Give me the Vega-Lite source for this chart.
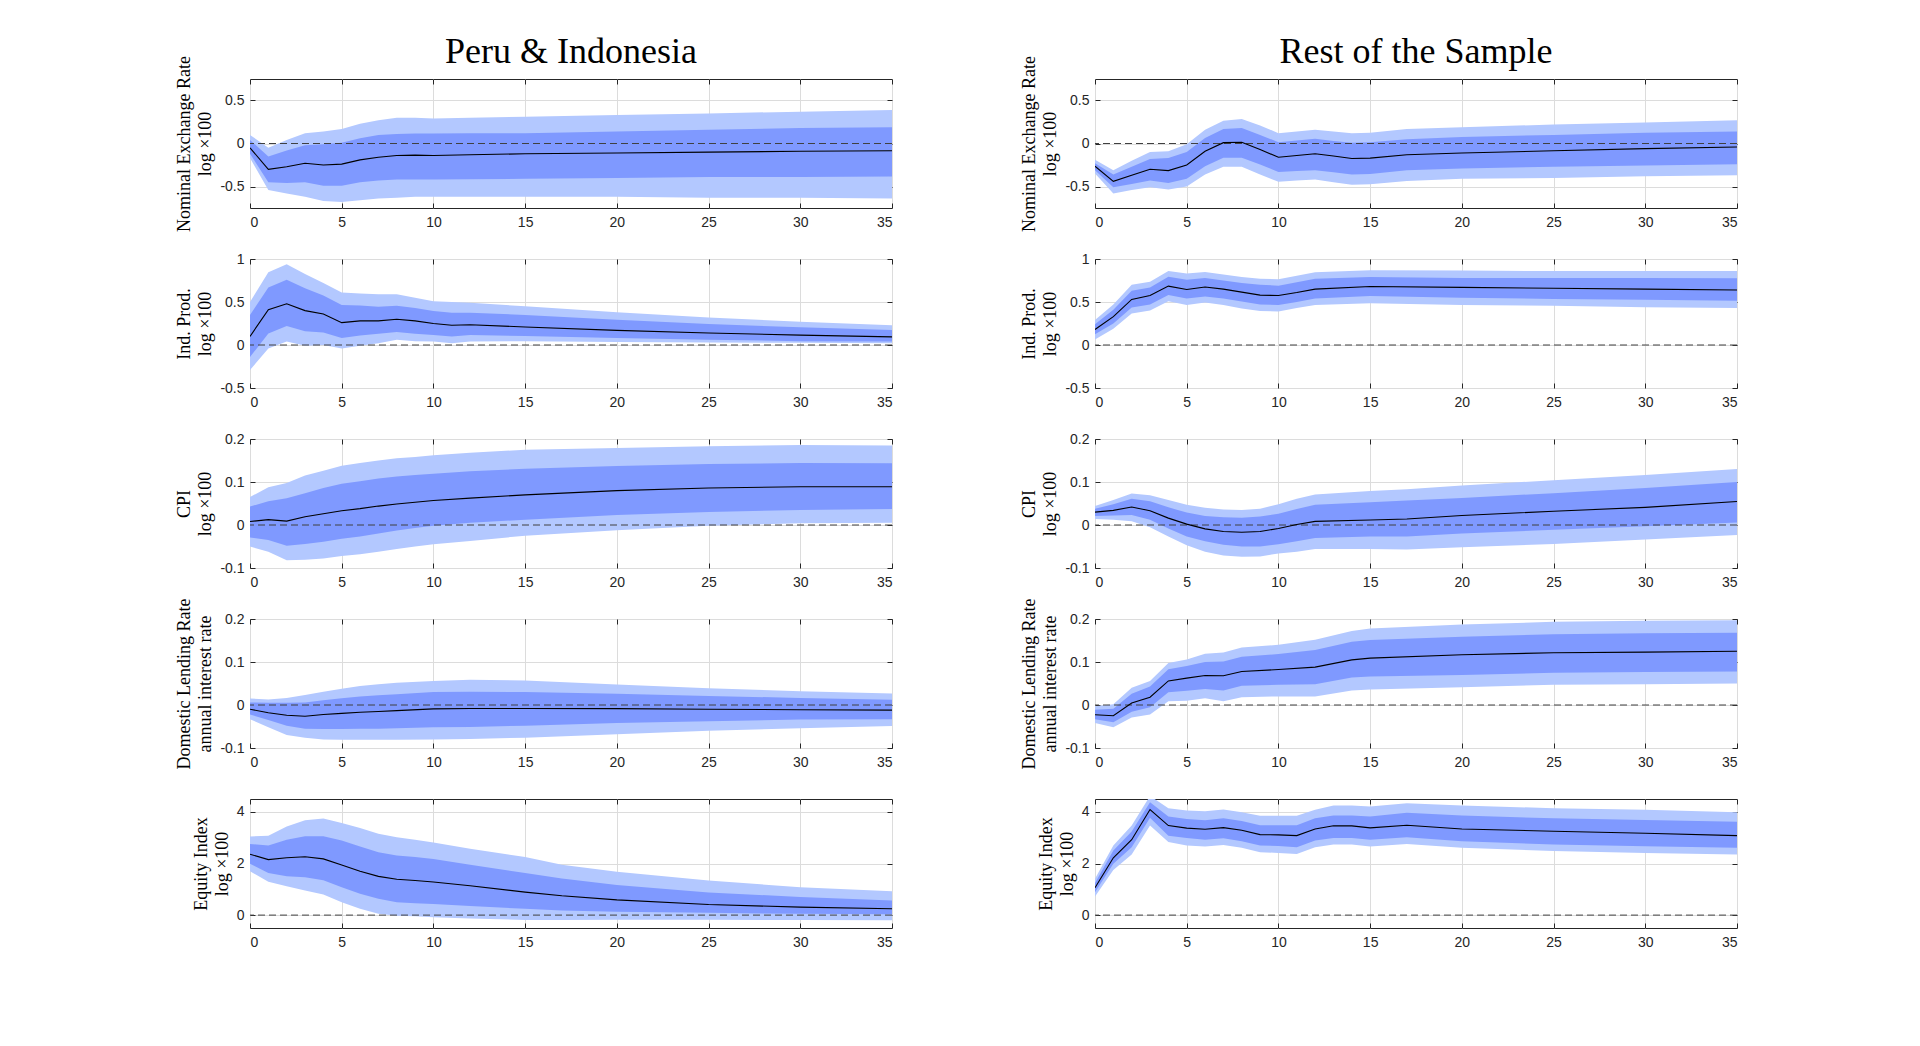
{
  "$schema": "https://vega.github.io/schema/vega-lite/v6.json",
  "background": "white",
  "padding": {"left": 175, "top": 33, "right": 10, "bottom": 10},
  "data": {
    "values": [
      {"panel": "pi_ner", "h": 0, "med": -0.05, "lo90": -0.17, "lo68": -0.12, "hi68": 0.04, "hi90": 0.1},
      {"panel": "pi_ner", "h": 1, "med": -0.3, "lo90": -0.54, "lo68": -0.45, "hi68": -0.15, "hi90": -0.05},
      {"panel": "pi_ner", "h": 2, "med": -0.27, "lo90": -0.58, "lo68": -0.46, "hi68": -0.08, "hi90": 0.04},
      {"panel": "pi_ner", "h": 3, "med": -0.23, "lo90": -0.62, "lo68": -0.45, "hi68": -0.02, "hi90": 0.12},
      {"panel": "pi_ner", "h": 4, "med": -0.25, "lo90": -0.67, "lo68": -0.49, "hi68": -0.01, "hi90": 0.14},
      {"panel": "pi_ner", "h": 5, "med": -0.24, "lo90": -0.68, "lo68": -0.49, "hi68": 0.01, "hi90": 0.17},
      {"panel": "pi_ner", "h": 6, "med": -0.19, "lo90": -0.66, "lo68": -0.45, "hi68": 0.06, "hi90": 0.23},
      {"panel": "pi_ner", "h": 7, "med": -0.16, "lo90": -0.64, "lo68": -0.43, "hi68": 0.1, "hi90": 0.27},
      {"panel": "pi_ner", "h": 8, "med": -0.14, "lo90": -0.63, "lo68": -0.42, "hi68": 0.11, "hi90": 0.3},
      {"panel": "pi_ner", "h": 9, "med": -0.135, "lo90": -0.62, "lo68": -0.42, "hi68": 0.115, "hi90": 0.3},
      {"panel": "pi_ner", "h": 10, "med": -0.14, "lo90": -0.62, "lo68": -0.42, "hi68": 0.115, "hi90": 0.29},
      {"panel": "pi_ner", "h": 12, "med": -0.13, "lo90": -0.62, "lo68": -0.415, "hi68": 0.12, "hi90": 0.3},
      {"panel": "pi_ner", "h": 15, "med": -0.12, "lo90": -0.62, "lo68": -0.41, "hi68": 0.12, "hi90": 0.31},
      {"panel": "pi_ner", "h": 20, "med": -0.11, "lo90": -0.62, "lo68": -0.4, "hi68": 0.14, "hi90": 0.33},
      {"panel": "pi_ner", "h": 25, "med": -0.1, "lo90": -0.63, "lo68": -0.39, "hi68": 0.16, "hi90": 0.35},
      {"panel": "pi_ner", "h": 30, "med": -0.09, "lo90": -0.63, "lo68": -0.39, "hi68": 0.18, "hi90": 0.37},
      {"panel": "pi_ner", "h": 35, "med": -0.085, "lo90": -0.64, "lo68": -0.385, "hi68": 0.19, "hi90": 0.39},

      {"panel": "rs_ner", "h": 0, "med": -0.265, "lo90": -0.35, "lo68": -0.31, "hi68": -0.23, "hi90": -0.19},
      {"panel": "rs_ner", "h": 1, "med": -0.44, "lo90": -0.58, "lo68": -0.51, "hi68": -0.36, "hi90": -0.31},
      {"panel": "rs_ner", "h": 2, "med": -0.37, "lo90": -0.54, "lo68": -0.47, "hi68": -0.27, "hi90": -0.2},
      {"panel": "rs_ner", "h": 3, "med": -0.3, "lo90": -0.51, "lo68": -0.43, "hi68": -0.18, "hi90": -0.1},
      {"panel": "rs_ner", "h": 4, "med": -0.315, "lo90": -0.535, "lo68": -0.46, "hi68": -0.17, "hi90": -0.09},
      {"panel": "rs_ner", "h": 5, "med": -0.25, "lo90": -0.5, "lo68": -0.41, "hi68": -0.1, "hi90": -0.01},
      {"panel": "rs_ner", "h": 6, "med": -0.09, "lo90": -0.36, "lo68": -0.265, "hi68": 0.065, "hi90": 0.16},
      {"panel": "rs_ner", "h": 7, "med": 0.01, "lo90": -0.27, "lo68": -0.165, "hi68": 0.17, "hi90": 0.265},
      {"panel": "rs_ner", "h": 8, "med": 0.015, "lo90": -0.27, "lo68": -0.165, "hi68": 0.18, "hi90": 0.285},
      {"panel": "rs_ner", "h": 9, "med": -0.07, "lo90": -0.36, "lo68": -0.245, "hi68": 0.1, "hi90": 0.21},
      {"panel": "rs_ner", "h": 10, "med": -0.16, "lo90": -0.445, "lo68": -0.33, "hi68": 0.015, "hi90": 0.12},
      {"panel": "rs_ner", "h": 11, "med": -0.14, "lo90": -0.43, "lo68": -0.32, "hi68": 0.035, "hi90": 0.14},
      {"panel": "rs_ner", "h": 12, "med": -0.12, "lo90": -0.42, "lo68": -0.31, "hi68": 0.055, "hi90": 0.16},
      {"panel": "rs_ner", "h": 13, "med": -0.145, "lo90": -0.45, "lo68": -0.335, "hi68": 0.03, "hi90": 0.14},
      {"panel": "rs_ner", "h": 14, "med": -0.175, "lo90": -0.48, "lo68": -0.36, "hi68": 0.01, "hi90": 0.12},
      {"panel": "rs_ner", "h": 15, "med": -0.17, "lo90": -0.475, "lo68": -0.355, "hi68": 0.015, "hi90": 0.125},
      {"panel": "rs_ner", "h": 17, "med": -0.13, "lo90": -0.435, "lo68": -0.31, "hi68": 0.05, "hi90": 0.17},
      {"panel": "rs_ner", "h": 20, "med": -0.11, "lo90": -0.41, "lo68": -0.29, "hi68": 0.075, "hi90": 0.19},
      {"panel": "rs_ner", "h": 25, "med": -0.085, "lo90": -0.4, "lo68": -0.27, "hi68": 0.1, "hi90": 0.22},
      {"panel": "rs_ner", "h": 30, "med": -0.06, "lo90": -0.38, "lo68": -0.255, "hi68": 0.125, "hi90": 0.245},
      {"panel": "rs_ner", "h": 35, "med": -0.04, "lo90": -0.37, "lo68": -0.24, "hi68": 0.14, "hi90": 0.27},

      {"panel": "pi_ip", "h": 0, "med": 0.1, "lo90": -0.29, "lo68": -0.14, "hi68": 0.35, "hi90": 0.5},
      {"panel": "pi_ip", "h": 1, "med": 0.41, "lo90": -0.04, "lo68": 0.135, "hi68": 0.67, "hi90": 0.845},
      {"panel": "pi_ip", "h": 2, "med": 0.48, "lo90": 0.04, "lo68": 0.22, "hi68": 0.76, "hi90": 0.94},
      {"panel": "pi_ip", "h": 3, "med": 0.4, "lo90": -0.01, "lo68": 0.16, "hi68": 0.66, "hi90": 0.825},
      {"panel": "pi_ip", "h": 4, "med": 0.36, "lo90": 0.0, "lo68": 0.145, "hi68": 0.575, "hi90": 0.72},
      {"panel": "pi_ip", "h": 5, "med": 0.26, "lo90": -0.04, "lo68": 0.08, "hi68": 0.465, "hi90": 0.61},
      {"panel": "pi_ip", "h": 6, "med": 0.28, "lo90": -0.01, "lo68": 0.11, "hi68": 0.46, "hi90": 0.6},
      {"panel": "pi_ip", "h": 7, "med": 0.28, "lo90": 0.02, "lo68": 0.13, "hi68": 0.445, "hi90": 0.59},
      {"panel": "pi_ip", "h": 8, "med": 0.3, "lo90": 0.06, "lo68": 0.15, "hi68": 0.455, "hi90": 0.59},
      {"panel": "pi_ip", "h": 9, "med": 0.28, "lo90": 0.045, "lo68": 0.13, "hi68": 0.43, "hi90": 0.55},
      {"panel": "pi_ip", "h": 10, "med": 0.25, "lo90": 0.04, "lo68": 0.115, "hi68": 0.395, "hi90": 0.51},
      {"panel": "pi_ip", "h": 11, "med": 0.23, "lo90": 0.02, "lo68": 0.1, "hi68": 0.375, "hi90": 0.5},
      {"panel": "pi_ip", "h": 12, "med": 0.235, "lo90": 0.04, "lo68": 0.115, "hi68": 0.375, "hi90": 0.49},
      {"panel": "pi_ip", "h": 15, "med": 0.21, "lo90": 0.045, "lo68": 0.105, "hi68": 0.35, "hi90": 0.45},
      {"panel": "pi_ip", "h": 20, "med": 0.17, "lo90": 0.035, "lo68": 0.08, "hi68": 0.295, "hi90": 0.38},
      {"panel": "pi_ip", "h": 25, "med": 0.14, "lo90": 0.03, "lo68": 0.06, "hi68": 0.245, "hi90": 0.32},
      {"panel": "pi_ip", "h": 30, "med": 0.115, "lo90": 0.025, "lo68": 0.045, "hi68": 0.205, "hi90": 0.27},
      {"panel": "pi_ip", "h": 35, "med": 0.095, "lo90": 0.02, "lo68": 0.04, "hi68": 0.175, "hi90": 0.23},

      {"panel": "rs_ip", "h": 0, "med": 0.18, "lo90": 0.065, "lo68": 0.125, "hi68": 0.24, "hi90": 0.29},
      {"panel": "rs_ip", "h": 1, "med": 0.33, "lo90": 0.19, "lo68": 0.25, "hi68": 0.41, "hi90": 0.47},
      {"panel": "rs_ip", "h": 2, "med": 0.53, "lo90": 0.365, "lo68": 0.435, "hi68": 0.63, "hi90": 0.7},
      {"panel": "rs_ip", "h": 3, "med": 0.575, "lo90": 0.4, "lo68": 0.47, "hi68": 0.67, "hi90": 0.735},
      {"panel": "rs_ip", "h": 4, "med": 0.685, "lo90": 0.51, "lo68": 0.58, "hi68": 0.795, "hi90": 0.86},
      {"panel": "rs_ip", "h": 5, "med": 0.645, "lo90": 0.465, "lo68": 0.54, "hi68": 0.76, "hi90": 0.83},
      {"panel": "rs_ip", "h": 6, "med": 0.675, "lo90": 0.495, "lo68": 0.565, "hi68": 0.78, "hi90": 0.85},
      {"panel": "rs_ip", "h": 7, "med": 0.65, "lo90": 0.465, "lo68": 0.54, "hi68": 0.75, "hi90": 0.82},
      {"panel": "rs_ip", "h": 8, "med": 0.615, "lo90": 0.425, "lo68": 0.505, "hi68": 0.72, "hi90": 0.79},
      {"panel": "rs_ip", "h": 9, "med": 0.58, "lo90": 0.395, "lo68": 0.47, "hi68": 0.7, "hi90": 0.77},
      {"panel": "rs_ip", "h": 10, "med": 0.575, "lo90": 0.39, "lo68": 0.465, "hi68": 0.69, "hi90": 0.765},
      {"panel": "rs_ip", "h": 11, "med": 0.61, "lo90": 0.43, "lo68": 0.5, "hi68": 0.73, "hi90": 0.805},
      {"panel": "rs_ip", "h": 12, "med": 0.65, "lo90": 0.465, "lo68": 0.54, "hi68": 0.77, "hi90": 0.845},
      {"panel": "rs_ip", "h": 15, "med": 0.68, "lo90": 0.485, "lo68": 0.57, "hi68": 0.79, "hi90": 0.87},
      {"panel": "rs_ip", "h": 20, "med": 0.67, "lo90": 0.465, "lo68": 0.55, "hi68": 0.78, "hi90": 0.865},
      {"panel": "rs_ip", "h": 25, "med": 0.66, "lo90": 0.455, "lo68": 0.535, "hi68": 0.78, "hi90": 0.86},
      {"panel": "rs_ip", "h": 30, "med": 0.65, "lo90": 0.44, "lo68": 0.525, "hi68": 0.78, "hi90": 0.86},
      {"panel": "rs_ip", "h": 35, "med": 0.64, "lo90": 0.43, "lo68": 0.515, "hi68": 0.775, "hi90": 0.86},

      {"panel": "pi_cpi", "h": 0, "med": 0.008, "lo90": -0.05, "lo68": -0.029, "hi68": 0.043, "hi90": 0.065},
      {"panel": "pi_cpi", "h": 1, "med": 0.0125, "lo90": -0.062, "lo68": -0.035, "hi68": 0.055, "hi90": 0.088},
      {"panel": "pi_cpi", "h": 2, "med": 0.009, "lo90": -0.082, "lo68": -0.048, "hi68": 0.062, "hi90": 0.0975},
      {"panel": "pi_cpi", "h": 3, "med": 0.019, "lo90": -0.081, "lo68": -0.044, "hi68": 0.074, "hi90": 0.115},
      {"panel": "pi_cpi", "h": 4, "med": 0.026, "lo90": -0.078, "lo68": -0.039, "hi68": 0.086, "hi90": 0.126},
      {"panel": "pi_cpi", "h": 5, "med": 0.033, "lo90": -0.072, "lo68": -0.032, "hi68": 0.096, "hi90": 0.138},
      {"panel": "pi_cpi", "h": 6, "med": 0.038, "lo90": -0.068, "lo68": -0.027, "hi68": 0.102, "hi90": 0.144},
      {"panel": "pi_cpi", "h": 7, "med": 0.044, "lo90": -0.062, "lo68": -0.02, "hi68": 0.108, "hi90": 0.15},
      {"panel": "pi_cpi", "h": 8, "med": 0.049, "lo90": -0.056, "lo68": -0.013, "hi68": 0.113, "hi90": 0.155},
      {"panel": "pi_cpi", "h": 9, "med": 0.053, "lo90": -0.05, "lo68": -0.007, "hi68": 0.116, "hi90": 0.158},
      {"panel": "pi_cpi", "h": 10, "med": 0.057, "lo90": -0.045, "lo68": -0.002, "hi68": 0.119, "hi90": 0.162},
      {"panel": "pi_cpi", "h": 12, "med": 0.0625, "lo90": -0.037, "lo68": 0.005, "hi68": 0.125, "hi90": 0.168},
      {"panel": "pi_cpi", "h": 15, "med": 0.07, "lo90": -0.025, "lo68": 0.0125, "hi68": 0.131, "hi90": 0.175},
      {"panel": "pi_cpi", "h": 20, "med": 0.08, "lo90": -0.012, "lo68": 0.023, "hi68": 0.137, "hi90": 0.179},
      {"panel": "pi_cpi", "h": 25, "med": 0.086, "lo90": -0.002, "lo68": 0.03, "hi68": 0.142, "hi90": 0.183},
      {"panel": "pi_cpi", "h": 30, "med": 0.089, "lo90": 0.004, "lo68": 0.035, "hi68": 0.144, "hi90": 0.186},
      {"panel": "pi_cpi", "h": 35, "med": 0.089, "lo90": 0.005, "lo68": 0.0375, "hi68": 0.1435, "hi90": 0.185},

      {"panel": "rs_cpi", "h": 0, "med": 0.03, "lo90": 0.014, "lo68": 0.021, "hi68": 0.038, "hi90": 0.044},
      {"panel": "rs_cpi", "h": 1, "med": 0.034, "lo90": 0.012, "lo68": 0.022, "hi68": 0.048, "hi90": 0.058},
      {"panel": "rs_cpi", "h": 2, "med": 0.042, "lo90": 0.009, "lo68": 0.023, "hi68": 0.061, "hi90": 0.073},
      {"panel": "rs_cpi", "h": 3, "med": 0.033, "lo90": -0.005, "lo68": 0.012, "hi68": 0.055, "hi90": 0.069},
      {"panel": "rs_cpi", "h": 4, "med": 0.016, "lo90": -0.027, "lo68": -0.008, "hi68": 0.041, "hi90": 0.058},
      {"panel": "rs_cpi", "h": 5, "med": 0.002, "lo90": -0.047, "lo68": -0.027, "hi68": 0.029, "hi90": 0.047},
      {"panel": "rs_cpi", "h": 6, "med": -0.009, "lo90": -0.062, "lo68": -0.038, "hi68": 0.021, "hi90": 0.04},
      {"panel": "rs_cpi", "h": 7, "med": -0.015, "lo90": -0.071, "lo68": -0.046, "hi68": 0.018, "hi90": 0.036},
      {"panel": "rs_cpi", "h": 8, "med": -0.017, "lo90": -0.074, "lo68": -0.05, "hi68": 0.017, "hi90": 0.035},
      {"panel": "rs_cpi", "h": 9, "med": -0.015, "lo90": -0.073, "lo68": -0.05, "hi68": 0.02, "hi90": 0.038},
      {"panel": "rs_cpi", "h": 10, "med": -0.008, "lo90": -0.066, "lo68": -0.045, "hi68": 0.026, "hi90": 0.048},
      {"panel": "rs_cpi", "h": 11, "med": 0.001, "lo90": -0.062, "lo68": -0.038, "hi68": 0.037, "hi90": 0.061},
      {"panel": "rs_cpi", "h": 12, "med": 0.0085, "lo90": -0.056, "lo68": -0.03, "hi68": 0.047, "hi90": 0.071},
      {"panel": "rs_cpi", "h": 15, "med": 0.0115, "lo90": -0.056, "lo68": -0.027, "hi68": 0.053, "hi90": 0.079},
      {"panel": "rs_cpi", "h": 17, "med": 0.014, "lo90": -0.057, "lo68": -0.027, "hi68": 0.057, "hi90": 0.083},
      {"panel": "rs_cpi", "h": 20, "med": 0.022, "lo90": -0.052, "lo68": -0.02, "hi68": 0.063, "hi90": 0.092},
      {"panel": "rs_cpi", "h": 25, "med": 0.032, "lo90": -0.044, "lo68": -0.011, "hi68": 0.074, "hi90": 0.104},
      {"panel": "rs_cpi", "h": 30, "med": 0.041, "lo90": -0.034, "lo68": -0.003, "hi68": 0.086, "hi90": 0.116},
      {"panel": "rs_cpi", "h": 35, "med": 0.0545, "lo90": -0.023, "lo68": 0.006, "hi68": 0.1, "hi90": 0.13},

      {"panel": "pi_lr", "h": 0, "med": -0.01, "lo90": -0.033, "lo68": -0.022, "hi68": 0.006, "hi90": 0.015},
      {"panel": "pi_lr", "h": 1, "med": -0.018, "lo90": -0.052, "lo68": -0.035, "hi68": 0.005, "hi90": 0.013},
      {"panel": "pi_lr", "h": 2, "med": -0.024, "lo90": -0.07, "lo68": -0.048, "hi68": 0.005, "hi90": 0.016},
      {"panel": "pi_lr", "h": 3, "med": -0.026, "lo90": -0.076, "lo68": -0.055, "hi68": 0.006, "hi90": 0.023},
      {"panel": "pi_lr", "h": 4, "med": -0.022, "lo90": -0.08, "lo68": -0.056, "hi68": 0.011, "hi90": 0.031},
      {"panel": "pi_lr", "h": 5, "med": -0.0195, "lo90": -0.081, "lo68": -0.056, "hi68": 0.0155, "hi90": 0.038},
      {"panel": "pi_lr", "h": 6, "med": -0.017, "lo90": -0.081, "lo68": -0.055, "hi68": 0.0195, "hi90": 0.044},
      {"panel": "pi_lr", "h": 7, "med": -0.015, "lo90": -0.081, "lo68": -0.055, "hi68": 0.0225, "hi90": 0.048},
      {"panel": "pi_lr", "h": 8, "med": -0.013, "lo90": -0.081, "lo68": -0.054, "hi68": 0.025, "hi90": 0.052},
      {"panel": "pi_lr", "h": 10, "med": -0.009, "lo90": -0.08, "lo68": -0.052, "hi68": 0.03, "hi90": 0.056},
      {"panel": "pi_lr", "h": 12, "med": -0.008, "lo90": -0.079, "lo68": -0.051, "hi68": 0.031, "hi90": 0.0585},
      {"panel": "pi_lr", "h": 15, "med": -0.008, "lo90": -0.076, "lo68": -0.048, "hi68": 0.03, "hi90": 0.057},
      {"panel": "pi_lr", "h": 20, "med": -0.0085, "lo90": -0.068, "lo68": -0.042, "hi68": 0.026, "hi90": 0.0475},
      {"panel": "pi_lr", "h": 25, "med": -0.01, "lo90": -0.06, "lo68": -0.038, "hi68": 0.021, "hi90": 0.039},
      {"panel": "pi_lr", "h": 30, "med": -0.011, "lo90": -0.054, "lo68": -0.034, "hi68": 0.0165, "hi90": 0.032},
      {"panel": "pi_lr", "h": 35, "med": -0.012, "lo90": -0.049, "lo68": -0.033, "hi68": 0.0125, "hi90": 0.0265},

      {"panel": "rs_lr", "h": 0, "med": -0.0225, "lo90": -0.042, "lo68": -0.033, "hi68": -0.011, "hi90": -0.003},
      {"panel": "rs_lr", "h": 1, "med": -0.025, "lo90": -0.052, "lo68": -0.04, "hi68": -0.009, "hi90": 0.0015},
      {"panel": "rs_lr", "h": 2, "med": 0.0045, "lo90": -0.029, "lo68": -0.0155, "hi68": 0.026, "hi90": 0.04},
      {"panel": "rs_lr", "h": 3, "med": 0.018, "lo90": -0.022, "lo68": -0.0055, "hi68": 0.043, "hi90": 0.056},
      {"panel": "rs_lr", "h": 4, "med": 0.056, "lo90": 0.009, "lo68": 0.0295, "hi68": 0.083, "hi90": 0.0975},
      {"panel": "rs_lr", "h": 5, "med": 0.0625, "lo90": 0.01, "lo68": 0.033, "hi68": 0.0905, "hi90": 0.106},
      {"panel": "rs_lr", "h": 6, "med": 0.0685, "lo90": 0.0155, "lo68": 0.0375, "hi68": 0.1, "hi90": 0.119},
      {"panel": "rs_lr", "h": 7, "med": 0.068, "lo90": 0.009, "lo68": 0.034, "hi68": 0.101, "hi90": 0.122},
      {"panel": "rs_lr", "h": 8, "med": 0.078, "lo90": 0.018, "lo68": 0.045, "hi68": 0.112, "hi90": 0.134},
      {"panel": "rs_lr", "h": 10, "med": 0.0825, "lo90": 0.02, "lo68": 0.047, "hi68": 0.1185, "hi90": 0.14},
      {"panel": "rs_lr", "h": 12, "med": 0.088, "lo90": 0.02, "lo68": 0.048, "hi68": 0.128, "hi90": 0.152},
      {"panel": "rs_lr", "h": 14, "med": 0.105, "lo90": 0.0335, "lo68": 0.064, "hi68": 0.147, "hi90": 0.172},
      {"panel": "rs_lr", "h": 15, "med": 0.109, "lo90": 0.036, "lo68": 0.066, "hi68": 0.151, "hi90": 0.178},
      {"panel": "rs_lr", "h": 20, "med": 0.117, "lo90": 0.041, "lo68": 0.07, "hi68": 0.159, "hi90": 0.187},
      {"panel": "rs_lr", "h": 25, "med": 0.1215, "lo90": 0.047, "lo68": 0.075, "hi68": 0.1645, "hi90": 0.1935},
      {"panel": "rs_lr", "h": 30, "med": 0.123, "lo90": 0.048, "lo68": 0.0765, "hi68": 0.167, "hi90": 0.196},
      {"panel": "rs_lr", "h": 35, "med": 0.125, "lo90": 0.05, "lo68": 0.078, "hi68": 0.168, "hi90": 0.197},

      {"panel": "pi_eq", "h": 0, "med": 2.36, "lo90": 1.7, "lo68": 1.99, "hi68": 2.76, "hi90": 3.05},
      {"panel": "pi_eq", "h": 1, "med": 2.15, "lo90": 1.29, "lo68": 1.63, "hi68": 2.7, "hi90": 3.08},
      {"panel": "pi_eq", "h": 2, "med": 2.22, "lo90": 1.12, "lo68": 1.51, "hi68": 2.92, "hi90": 3.43},
      {"panel": "pi_eq", "h": 3, "med": 2.26, "lo90": 0.95, "lo68": 1.47, "hi68": 3.06, "hi90": 3.68},
      {"panel": "pi_eq", "h": 4, "med": 2.18, "lo90": 0.8, "lo68": 1.35, "hi68": 3.06, "hi90": 3.74},
      {"panel": "pi_eq", "h": 5, "med": 1.94, "lo90": 0.5, "lo68": 1.08, "hi68": 2.89, "hi90": 3.57},
      {"panel": "pi_eq", "h": 6, "med": 1.7, "lo90": 0.245, "lo68": 0.83, "hi68": 2.66, "hi90": 3.38},
      {"panel": "pi_eq", "h": 7, "med": 1.5, "lo90": 0.05, "lo68": 0.63, "hi68": 2.44, "hi90": 3.15},
      {"panel": "pi_eq", "h": 8, "med": 1.39, "lo90": -0.03, "lo68": 0.5, "hi68": 2.31, "hi90": 3.02},
      {"panel": "pi_eq", "h": 9, "med": 1.34, "lo90": -0.04, "lo68": 0.46, "hi68": 2.25, "hi90": 2.92},
      {"panel": "pi_eq", "h": 10, "med": 1.28, "lo90": -0.08, "lo68": 0.43, "hi68": 2.17, "hi90": 2.81},
      {"panel": "pi_eq", "h": 12, "med": 1.14, "lo90": -0.13, "lo68": 0.35, "hi68": 1.95, "hi90": 2.57},
      {"panel": "pi_eq", "h": 15, "med": 0.89, "lo90": -0.19, "lo68": 0.245, "hi68": 1.63, "hi90": 2.25},
      {"panel": "pi_eq", "h": 17, "med": 0.75, "lo90": -0.19, "lo68": 0.18, "hi68": 1.42, "hi90": 1.95},
      {"panel": "pi_eq", "h": 20, "med": 0.59, "lo90": -0.18, "lo68": 0.13, "hi68": 1.17, "hi90": 1.68},
      {"panel": "pi_eq", "h": 25, "med": 0.41, "lo90": -0.18, "lo68": 0.09, "hi68": 0.88, "hi90": 1.34},
      {"panel": "pi_eq", "h": 30, "med": 0.31, "lo90": -0.19, "lo68": 0.05, "hi68": 0.7, "hi90": 1.08},
      {"panel": "pi_eq", "h": 35, "med": 0.245, "lo90": -0.2, "lo68": 0.03, "hi68": 0.57, "hi90": 0.92},

      {"panel": "rs_eq", "h": 0, "med": 1.06, "lo90": 0.72, "lo68": 0.89, "hi68": 1.24, "hi90": 1.41},
      {"panel": "rs_eq", "h": 1, "med": 2.22, "lo90": 1.75, "lo68": 1.99, "hi68": 2.5, "hi90": 2.7},
      {"panel": "rs_eq", "h": 2, "med": 2.92, "lo90": 2.35, "lo68": 2.63, "hi68": 3.24, "hi90": 3.47},
      {"panel": "rs_eq", "h": 3, "med": 4.09, "lo90": 3.47, "lo68": 3.77, "hi68": 4.37, "hi90": 4.62},
      {"panel": "rs_eq", "h": 4, "med": 3.47, "lo90": 2.83, "lo68": 3.08, "hi68": 3.82, "hi90": 4.14},
      {"panel": "rs_eq", "h": 5, "med": 3.37, "lo90": 2.7, "lo68": 2.99, "hi68": 3.72, "hi90": 4.05},
      {"panel": "rs_eq", "h": 6, "med": 3.33, "lo90": 2.66, "lo68": 2.92, "hi68": 3.68, "hi90": 4.03},
      {"panel": "rs_eq", "h": 7, "med": 3.39, "lo90": 2.72, "lo68": 2.98, "hi68": 3.75, "hi90": 4.09},
      {"panel": "rs_eq", "h": 8, "med": 3.29, "lo90": 2.61, "lo68": 2.86, "hi68": 3.65, "hi90": 3.99},
      {"panel": "rs_eq", "h": 9, "med": 3.12, "lo90": 2.44, "lo68": 2.7, "hi68": 3.48, "hi90": 3.85},
      {"panel": "rs_eq", "h": 10, "med": 3.11, "lo90": 2.41, "lo68": 2.68, "hi68": 3.48, "hi90": 3.85},
      {"panel": "rs_eq", "h": 11, "med": 3.08, "lo90": 2.37, "lo68": 2.63, "hi68": 3.48, "hi90": 3.85},
      {"panel": "rs_eq", "h": 12, "med": 3.34, "lo90": 2.63, "lo68": 2.89, "hi68": 3.75, "hi90": 4.08},
      {"panel": "rs_eq", "h": 13, "med": 3.46, "lo90": 2.74, "lo68": 2.99, "hi68": 3.86, "hi90": 4.25},
      {"panel": "rs_eq", "h": 14, "med": 3.46, "lo90": 2.74, "lo68": 2.99, "hi68": 3.86, "hi90": 4.25},
      {"panel": "rs_eq", "h": 15, "med": 3.38, "lo90": 2.66, "lo68": 2.92, "hi68": 3.82, "hi90": 4.21},
      {"panel": "rs_eq", "h": 17, "med": 3.48, "lo90": 2.76, "lo68": 3.02, "hi68": 3.97, "hi90": 4.34},
      {"panel": "rs_eq", "h": 20, "med": 3.34, "lo90": 2.61, "lo68": 2.86, "hi68": 3.86, "hi90": 4.25},
      {"panel": "rs_eq", "h": 25, "med": 3.25, "lo90": 2.48, "lo68": 2.74, "hi68": 3.75, "hi90": 4.14},
      {"panel": "rs_eq", "h": 30, "med": 3.17, "lo90": 2.41, "lo68": 2.67, "hi68": 3.69, "hi90": 4.08},
      {"panel": "rs_eq", "h": 35, "med": 3.08, "lo90": 2.35, "lo68": 2.61, "hi68": 3.62, "hi90": 3.99}
    ]
  },
  "spacing": 127,
  "hconcat": [
    {
      "spacing": 51,
      "bounds": "flush",
      "vconcat": [
        {
          "title": {"text": "Peru & Indonesia", "frame": "group", "anchor": "middle", "baseline": "alphabetic", "offset": -43, "font": "Liberation Serif", "fontSize": 36, "fontWeight": "normal", "color": "black"},
          "width": 642, "height": 129,
          "transform": [{"filter": "datum.panel === 'pi_ner'"}],
          "resolve": {"axis": {"x": "independent", "y": "independent"}},
          "layer": [
            {"mark": {"type": "area", "color": "#b3c8ff", "clip": true},
             "encoding": {"x": {"field": "h", "type": "quantitative", "scale": {"domain": [0, 35], "nice": false}, "axis": {"values": [0, 5, 10, 15, 20, 25, 30, 35], "title": null}},
                          "y": {"field": "lo90", "type": "quantitative", "scale": {"domain": [-0.75, 0.75], "nice": false, "zero": false}, "axis": {"values": [-0.5, 0, 0.5], "title": ["Nominal Exchange Rate", "log ×100"]}},
                          "y2": {"field": "hi90"}}},
            {"mark": {"type": "area", "color": "#7f99ff", "clip": true},
             "encoding": {"x": {"field": "h", "type": "quantitative", "axis": null}, "y": {"field": "lo68", "type": "quantitative", "axis": null}, "y2": {"field": "hi68"}}},
            {"data": {"values": [{}]}, "mark": {"type": "rule", "color": "#404040", "strokeDash": [7, 4], "strokeWidth": 1}, "encoding": {"y": {"datum": 0, "type": "quantitative", "axis": null}}},
            {"mark": {"type": "line", "color": "black", "strokeWidth": 1.1, "clip": true},
             "encoding": {"x": {"field": "h", "type": "quantitative", "axis": {"orient": "top", "values": [0, 5, 10, 15, 20, 25, 30, 35], "labels": false, "grid": false, "title": null}},
                          "y": {"field": "med", "type": "quantitative", "axis": {"orient": "right", "values": [-0.5, 0, 0.5], "labels": false, "grid": false, "title": null}}}}
          ]
        },
        {
          "width": 642, "height": 129,
          "transform": [{"filter": "datum.panel === 'pi_ip'"}],
          "resolve": {"axis": {"x": "independent", "y": "independent"}},
          "layer": [
            {"mark": {"type": "area", "color": "#b3c8ff", "clip": true},
             "encoding": {"x": {"field": "h", "type": "quantitative", "scale": {"domain": [0, 35], "nice": false}, "axis": {"values": [0, 5, 10, 15, 20, 25, 30, 35], "title": null}},
                          "y": {"field": "lo90", "type": "quantitative", "scale": {"domain": [-0.5, 1], "nice": false, "zero": false}, "axis": {"values": [-0.5, 0, 0.5, 1], "title": ["Ind. Prod.", "log ×100"]}},
                          "y2": {"field": "hi90"}}},
            {"mark": {"type": "area", "color": "#7f99ff", "clip": true},
             "encoding": {"x": {"field": "h", "type": "quantitative", "axis": null}, "y": {"field": "lo68", "type": "quantitative", "axis": null}, "y2": {"field": "hi68"}}},
            {"data": {"values": [{}]}, "mark": {"type": "rule", "color": "#404040", "strokeDash": [7, 4], "strokeWidth": 1}, "encoding": {"y": {"datum": 0, "type": "quantitative", "axis": null}}},
            {"mark": {"type": "line", "color": "black", "strokeWidth": 1.1, "clip": true},
             "encoding": {"x": {"field": "h", "type": "quantitative", "axis": {"orient": "top", "values": [0, 5, 10, 15, 20, 25, 30, 35], "labels": false, "grid": false, "title": null}},
                          "y": {"field": "med", "type": "quantitative", "axis": {"orient": "right", "values": [-0.5, 0, 0.5, 1], "labels": false, "grid": false, "title": null}}}}
          ]
        },
        {
          "width": 642, "height": 129,
          "transform": [{"filter": "datum.panel === 'pi_cpi'"}],
          "resolve": {"axis": {"x": "independent", "y": "independent"}},
          "layer": [
            {"mark": {"type": "area", "color": "#b3c8ff", "clip": true},
             "encoding": {"x": {"field": "h", "type": "quantitative", "scale": {"domain": [0, 35], "nice": false}, "axis": {"values": [0, 5, 10, 15, 20, 25, 30, 35], "title": null}},
                          "y": {"field": "lo90", "type": "quantitative", "scale": {"domain": [-0.1, 0.2], "nice": false, "zero": false}, "axis": {"values": [-0.1, 0, 0.1, 0.2], "title": ["CPI", "log ×100"]}},
                          "y2": {"field": "hi90"}}},
            {"mark": {"type": "area", "color": "#7f99ff", "clip": true},
             "encoding": {"x": {"field": "h", "type": "quantitative", "axis": null}, "y": {"field": "lo68", "type": "quantitative", "axis": null}, "y2": {"field": "hi68"}}},
            {"data": {"values": [{}]}, "mark": {"type": "rule", "color": "#404040", "strokeDash": [7, 4], "strokeWidth": 1}, "encoding": {"y": {"datum": 0, "type": "quantitative", "axis": null}}},
            {"mark": {"type": "line", "color": "black", "strokeWidth": 1.1, "clip": true},
             "encoding": {"x": {"field": "h", "type": "quantitative", "axis": {"orient": "top", "values": [0, 5, 10, 15, 20, 25, 30, 35], "labels": false, "grid": false, "title": null}},
                          "y": {"field": "med", "type": "quantitative", "axis": {"orient": "right", "values": [-0.1, 0, 0.1, 0.2], "labels": false, "grid": false, "title": null}}}}
          ]
        },
        {
          "width": 642, "height": 129,
          "transform": [{"filter": "datum.panel === 'pi_lr'"}],
          "resolve": {"axis": {"x": "independent", "y": "independent"}},
          "layer": [
            {"mark": {"type": "area", "color": "#b3c8ff", "clip": true},
             "encoding": {"x": {"field": "h", "type": "quantitative", "scale": {"domain": [0, 35], "nice": false}, "axis": {"values": [0, 5, 10, 15, 20, 25, 30, 35], "title": null}},
                          "y": {"field": "lo90", "type": "quantitative", "scale": {"domain": [-0.1, 0.2], "nice": false, "zero": false}, "axis": {"values": [-0.1, 0, 0.1, 0.2], "title": ["Domestic Lending Rate", "annual interest rate"]}},
                          "y2": {"field": "hi90"}}},
            {"mark": {"type": "area", "color": "#7f99ff", "clip": true},
             "encoding": {"x": {"field": "h", "type": "quantitative", "axis": null}, "y": {"field": "lo68", "type": "quantitative", "axis": null}, "y2": {"field": "hi68"}}},
            {"data": {"values": [{}]}, "mark": {"type": "rule", "color": "#404040", "strokeDash": [7, 4], "strokeWidth": 1}, "encoding": {"y": {"datum": 0, "type": "quantitative", "axis": null}}},
            {"mark": {"type": "line", "color": "black", "strokeWidth": 1.1, "clip": true},
             "encoding": {"x": {"field": "h", "type": "quantitative", "axis": {"orient": "top", "values": [0, 5, 10, 15, 20, 25, 30, 35], "labels": false, "grid": false, "title": null}},
                          "y": {"field": "med", "type": "quantitative", "axis": {"orient": "right", "values": [-0.1, 0, 0.1, 0.2], "labels": false, "grid": false, "title": null}}}}
          ]
        },
        {
          "width": 642, "height": 129,
          "transform": [{"filter": "datum.panel === 'pi_eq'"}],
          "resolve": {"axis": {"x": "independent", "y": "independent"}},
          "layer": [
            {"mark": {"type": "area", "color": "#b3c8ff", "clip": true},
             "encoding": {"x": {"field": "h", "type": "quantitative", "scale": {"domain": [0, 35], "nice": false}, "axis": {"values": [0, 5, 10, 15, 20, 25, 30, 35], "title": null}},
                          "y": {"field": "lo90", "type": "quantitative", "scale": {"domain": [-0.5, 4.5], "nice": false, "zero": false}, "axis": {"values": [0, 2, 4], "title": ["Equity Index", "log ×100"]}},
                          "y2": {"field": "hi90"}}},
            {"mark": {"type": "area", "color": "#7f99ff", "clip": true},
             "encoding": {"x": {"field": "h", "type": "quantitative", "axis": null}, "y": {"field": "lo68", "type": "quantitative", "axis": null}, "y2": {"field": "hi68"}}},
            {"data": {"values": [{}]}, "mark": {"type": "rule", "color": "#404040", "strokeDash": [7, 4], "strokeWidth": 1}, "encoding": {"y": {"datum": 0, "type": "quantitative", "axis": null}}},
            {"mark": {"type": "line", "color": "black", "strokeWidth": 1.1, "clip": true},
             "encoding": {"x": {"field": "h", "type": "quantitative", "axis": {"orient": "top", "values": [0, 5, 10, 15, 20, 25, 30, 35], "labels": false, "grid": false, "title": null}},
                          "y": {"field": "med", "type": "quantitative", "axis": {"orient": "right", "values": [0, 2, 4], "labels": false, "grid": false, "title": null}}}}
          ]
        }
      ]
    },
    {
      "spacing": 51,
      "bounds": "flush",
      "vconcat": [
        {
          "title": {"text": "Rest of the Sample", "frame": "group", "anchor": "middle", "baseline": "alphabetic", "offset": -43, "font": "Liberation Serif", "fontSize": 36, "fontWeight": "normal", "color": "black"},
          "width": 642, "height": 129,
          "transform": [{"filter": "datum.panel === 'rs_ner'"}],
          "resolve": {"axis": {"x": "independent", "y": "independent"}},
          "layer": [
            {"mark": {"type": "area", "color": "#b3c8ff", "clip": true},
             "encoding": {"x": {"field": "h", "type": "quantitative", "scale": {"domain": [0, 35], "nice": false}, "axis": {"values": [0, 5, 10, 15, 20, 25, 30, 35], "title": null}},
                          "y": {"field": "lo90", "type": "quantitative", "scale": {"domain": [-0.75, 0.75], "nice": false, "zero": false}, "axis": {"values": [-0.5, 0, 0.5], "title": ["Nominal Exchange Rate", "log ×100"]}},
                          "y2": {"field": "hi90"}}},
            {"mark": {"type": "area", "color": "#7f99ff", "clip": true},
             "encoding": {"x": {"field": "h", "type": "quantitative", "axis": null}, "y": {"field": "lo68", "type": "quantitative", "axis": null}, "y2": {"field": "hi68"}}},
            {"data": {"values": [{}]}, "mark": {"type": "rule", "color": "#404040", "strokeDash": [7, 4], "strokeWidth": 1}, "encoding": {"y": {"datum": 0, "type": "quantitative", "axis": null}}},
            {"mark": {"type": "line", "color": "black", "strokeWidth": 1.1, "clip": true},
             "encoding": {"x": {"field": "h", "type": "quantitative", "axis": {"orient": "top", "values": [0, 5, 10, 15, 20, 25, 30, 35], "labels": false, "grid": false, "title": null}},
                          "y": {"field": "med", "type": "quantitative", "axis": {"orient": "right", "values": [-0.5, 0, 0.5], "labels": false, "grid": false, "title": null}}}}
          ]
        },
        {
          "width": 642, "height": 129,
          "transform": [{"filter": "datum.panel === 'rs_ip'"}],
          "resolve": {"axis": {"x": "independent", "y": "independent"}},
          "layer": [
            {"mark": {"type": "area", "color": "#b3c8ff", "clip": true},
             "encoding": {"x": {"field": "h", "type": "quantitative", "scale": {"domain": [0, 35], "nice": false}, "axis": {"values": [0, 5, 10, 15, 20, 25, 30, 35], "title": null}},
                          "y": {"field": "lo90", "type": "quantitative", "scale": {"domain": [-0.5, 1], "nice": false, "zero": false}, "axis": {"values": [-0.5, 0, 0.5, 1], "title": ["Ind. Prod.", "log ×100"]}},
                          "y2": {"field": "hi90"}}},
            {"mark": {"type": "area", "color": "#7f99ff", "clip": true},
             "encoding": {"x": {"field": "h", "type": "quantitative", "axis": null}, "y": {"field": "lo68", "type": "quantitative", "axis": null}, "y2": {"field": "hi68"}}},
            {"data": {"values": [{}]}, "mark": {"type": "rule", "color": "#404040", "strokeDash": [7, 4], "strokeWidth": 1}, "encoding": {"y": {"datum": 0, "type": "quantitative", "axis": null}}},
            {"mark": {"type": "line", "color": "black", "strokeWidth": 1.1, "clip": true},
             "encoding": {"x": {"field": "h", "type": "quantitative", "axis": {"orient": "top", "values": [0, 5, 10, 15, 20, 25, 30, 35], "labels": false, "grid": false, "title": null}},
                          "y": {"field": "med", "type": "quantitative", "axis": {"orient": "right", "values": [-0.5, 0, 0.5, 1], "labels": false, "grid": false, "title": null}}}}
          ]
        },
        {
          "width": 642, "height": 129,
          "transform": [{"filter": "datum.panel === 'rs_cpi'"}],
          "resolve": {"axis": {"x": "independent", "y": "independent"}},
          "layer": [
            {"mark": {"type": "area", "color": "#b3c8ff", "clip": true},
             "encoding": {"x": {"field": "h", "type": "quantitative", "scale": {"domain": [0, 35], "nice": false}, "axis": {"values": [0, 5, 10, 15, 20, 25, 30, 35], "title": null}},
                          "y": {"field": "lo90", "type": "quantitative", "scale": {"domain": [-0.1, 0.2], "nice": false, "zero": false}, "axis": {"values": [-0.1, 0, 0.1, 0.2], "title": ["CPI", "log ×100"]}},
                          "y2": {"field": "hi90"}}},
            {"mark": {"type": "area", "color": "#7f99ff", "clip": true},
             "encoding": {"x": {"field": "h", "type": "quantitative", "axis": null}, "y": {"field": "lo68", "type": "quantitative", "axis": null}, "y2": {"field": "hi68"}}},
            {"data": {"values": [{}]}, "mark": {"type": "rule", "color": "#404040", "strokeDash": [7, 4], "strokeWidth": 1}, "encoding": {"y": {"datum": 0, "type": "quantitative", "axis": null}}},
            {"mark": {"type": "line", "color": "black", "strokeWidth": 1.1, "clip": true},
             "encoding": {"x": {"field": "h", "type": "quantitative", "axis": {"orient": "top", "values": [0, 5, 10, 15, 20, 25, 30, 35], "labels": false, "grid": false, "title": null}},
                          "y": {"field": "med", "type": "quantitative", "axis": {"orient": "right", "values": [-0.1, 0, 0.1, 0.2], "labels": false, "grid": false, "title": null}}}}
          ]
        },
        {
          "width": 642, "height": 129,
          "transform": [{"filter": "datum.panel === 'rs_lr'"}],
          "resolve": {"axis": {"x": "independent", "y": "independent"}},
          "layer": [
            {"mark": {"type": "area", "color": "#b3c8ff", "clip": true},
             "encoding": {"x": {"field": "h", "type": "quantitative", "scale": {"domain": [0, 35], "nice": false}, "axis": {"values": [0, 5, 10, 15, 20, 25, 30, 35], "title": null}},
                          "y": {"field": "lo90", "type": "quantitative", "scale": {"domain": [-0.1, 0.2], "nice": false, "zero": false}, "axis": {"values": [-0.1, 0, 0.1, 0.2], "title": ["Domestic Lending Rate", "annual interest rate"]}},
                          "y2": {"field": "hi90"}}},
            {"mark": {"type": "area", "color": "#7f99ff", "clip": true},
             "encoding": {"x": {"field": "h", "type": "quantitative", "axis": null}, "y": {"field": "lo68", "type": "quantitative", "axis": null}, "y2": {"field": "hi68"}}},
            {"data": {"values": [{}]}, "mark": {"type": "rule", "color": "#404040", "strokeDash": [7, 4], "strokeWidth": 1}, "encoding": {"y": {"datum": 0, "type": "quantitative", "axis": null}}},
            {"mark": {"type": "line", "color": "black", "strokeWidth": 1.1, "clip": true},
             "encoding": {"x": {"field": "h", "type": "quantitative", "axis": {"orient": "top", "values": [0, 5, 10, 15, 20, 25, 30, 35], "labels": false, "grid": false, "title": null}},
                          "y": {"field": "med", "type": "quantitative", "axis": {"orient": "right", "values": [-0.1, 0, 0.1, 0.2], "labels": false, "grid": false, "title": null}}}}
          ]
        },
        {
          "width": 642, "height": 129,
          "transform": [{"filter": "datum.panel === 'rs_eq'"}],
          "resolve": {"axis": {"x": "independent", "y": "independent"}},
          "layer": [
            {"mark": {"type": "area", "color": "#b3c8ff", "clip": true},
             "encoding": {"x": {"field": "h", "type": "quantitative", "scale": {"domain": [0, 35], "nice": false}, "axis": {"values": [0, 5, 10, 15, 20, 25, 30, 35], "title": null}},
                          "y": {"field": "lo90", "type": "quantitative", "scale": {"domain": [-0.5, 4.5], "nice": false, "zero": false}, "axis": {"values": [0, 2, 4], "title": ["Equity Index", "log ×100"]}},
                          "y2": {"field": "hi90"}}},
            {"mark": {"type": "area", "color": "#7f99ff", "clip": true},
             "encoding": {"x": {"field": "h", "type": "quantitative", "axis": null}, "y": {"field": "lo68", "type": "quantitative", "axis": null}, "y2": {"field": "hi68"}}},
            {"data": {"values": [{}]}, "mark": {"type": "rule", "color": "#404040", "strokeDash": [7, 4], "strokeWidth": 1}, "encoding": {"y": {"datum": 0, "type": "quantitative", "axis": null}}},
            {"mark": {"type": "line", "color": "black", "strokeWidth": 1.1, "clip": true},
             "encoding": {"x": {"field": "h", "type": "quantitative", "axis": {"orient": "top", "values": [0, 5, 10, 15, 20, 25, 30, 35], "labels": false, "grid": false, "title": null}},
                          "y": {"field": "med", "type": "quantitative", "axis": {"orient": "right", "values": [0, 2, 4], "labels": false, "grid": false, "title": null}}}}
          ]
        }
      ]
    }
  ],
  "config": {
    "view": {"stroke": "#262626", "strokeWidth": 1},
    "axis": {
      "domain": false,
      "ticks": true,
      "tickSize": -5,
      "tickColor": "#262626",
      "tickWidth": 1,
      "grid": true,
      "gridColor": "#dcdcdc",
      "gridWidth": 1,
      "labelFont": "Liberation Sans",
      "labelFontSize": 14,
      "labelColor": "#262626",
      "labelExpr": "toString(datum.value)",
      "titleFont": "Liberation Serif",
      "titleFontSize": 18,
      "titleFontWeight": "normal",
      "titleColor": "black",
      "titleLineHeight": 21
    },
    "axisX": {"labelPadding": 12},
    "axisY": {"labelPadding": 11, "titlePadding": 5}
  }
}
